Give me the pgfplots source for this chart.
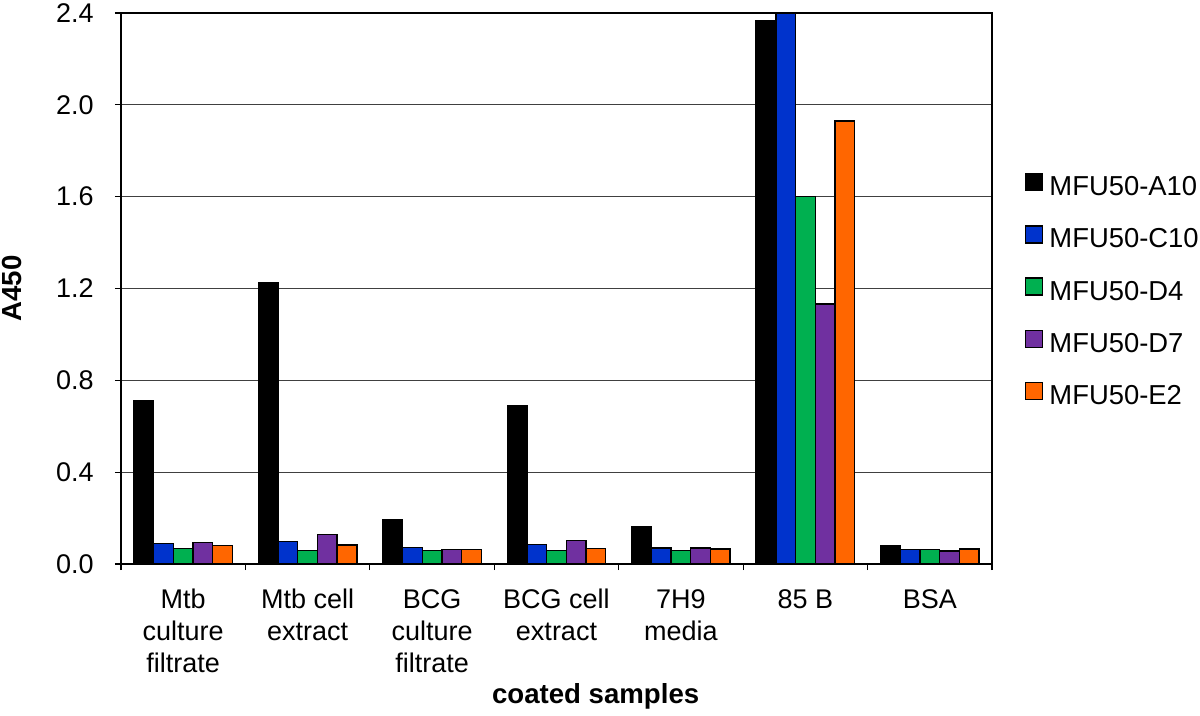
\documentclass[border=0pt]{standalone}
\usepackage{pgfplots}
\pgfplotsset{compat=1.18}
\usepackage{fontspec}
\setmainfont{Liberation Sans}
\definecolor{cblue}{RGB}{0,51,204}
\definecolor{cgreen}{RGB}{0,176,80}
\definecolor{cpurple}{RGB}{112,48,160}
\definecolor{corange}{RGB}{255,102,0}
\newcommand{\ff}{\fontsize{13.5bp}{16bp}\selectfont}
\newcommand{\lf}{\fontsize{13.7bp}{16bp}\selectfont}
\newcommand{\lbf}{\fontsize{13.8bp}{16bp}\selectfont\bfseries}
\begin{document}
\begin{tikzpicture}
\useasboundingbox (-60.5bp,-76bp) rectangle (539.5bp,282bp);
\begin{axis}[
  at={(0,0)}, anchor=south west,
  scale only axis, width=435.5bp, height=275.5bp,
  ybar=0pt, bar width=9.85bp,
  xmin=-0.5, xmax=6.5, ymin=0, ymax=2.4,
  xtick={0,...,6},
  xticklabels={{Mtb\\culture\\filtrate},{Mtb cell\\extract},{BCG\\culture\\filtrate},{BCG cell\\extract},{7H9\\media},{85 B},{BSA}},
  minor xtick={-0.5,0.5,1.5,2.5,3.5,4.5,5.5,6.5},
  major x tick style={draw=none},
  ytick={0,0.4,0.8,1.2,1.6,2.0,2.4},
  /pgf/number format/fixed, /pgf/number format/fixed zerofill, /pgf/number format/precision=1,
  /pgf/number format/assume math mode=true,
  tick align=outside, xtick pos=bottom, ytick pos=left,
  major tick length=3bp, minor tick length=3bp,
  every tick/.style={black, line width=0.6bp},
  ymajorgrids, grid style={black!75, line width=0.6bp},
  axis line style={black, line width=0.75bp},
  every tick label/.append style={font=\ff},
  xticklabel style={align=center, inner sep=0pt, yshift=-9.5bp},
  yticklabel style={inner sep=0pt, xshift=-10.5bp},
  xlabel={coated samples},
  ylabel={A450},
  label style={font=\lbf},
  xlabel style={at={(axis description cs:0.545,0)}, anchor=base, yshift=-69.5bp, inner sep=0pt},
  ylabel style={at={(axis description cs:-0.1257,0.5)}, anchor=center, inner sep=0pt},
  legend image code/.code={\draw[#1,draw=black,line width=0.7bp] (0bp,-1bp) rectangle (8.5bp,7.5bp);},
  legend cell align=left,
  legend style={draw=none, fill=none, at={(1.038,0.494)}, anchor=west, inner sep=0pt, outer sep=0pt,
    font=\lf, row sep=11.75bp,
    nodes={inner sep=0pt, text height=10bp, text depth=3bp},
    /tikz/every odd column/.append style={column sep=3bp}},
  every axis plot/.append style={draw=black, line width=0.7bp},
]
\addplot[fill=black] coordinates {(0,0.71) (1,1.225) (2,0.193) (3,0.688) (4,0.164) (5,2.365) (6,0.081)};
\addlegendentry{\lf MFU50-A10}
\addplot[fill=cblue] coordinates {(0,0.090) (1,0.099) (2,0.073) (3,0.084) (4,0.070) (5,2.398) (6,0.062)};
\addlegendentry{\lf MFU50-C10}
\addplot[fill=cgreen] coordinates {(0,0.068) (1,0.060) (2,0.060) (3,0.060) (4,0.060) (5,1.600) (6,0.062)};
\addlegendentry{\lf MFU50-D4}
\addplot[fill=cpurple] coordinates {(0,0.094) (1,0.129) (2,0.064) (3,0.103) (4,0.070) (5,1.132) (6,0.057)};
\addlegendentry{\lf MFU50-D7}
\addplot[fill=corange] coordinates {(0,0.080) (1,0.083) (2,0.064) (3,0.068) (4,0.065) (5,1.930) (6,0.065)};
\addlegendentry{\lf MFU50-E2}
\end{axis}
\end{tikzpicture}
\end{document}
